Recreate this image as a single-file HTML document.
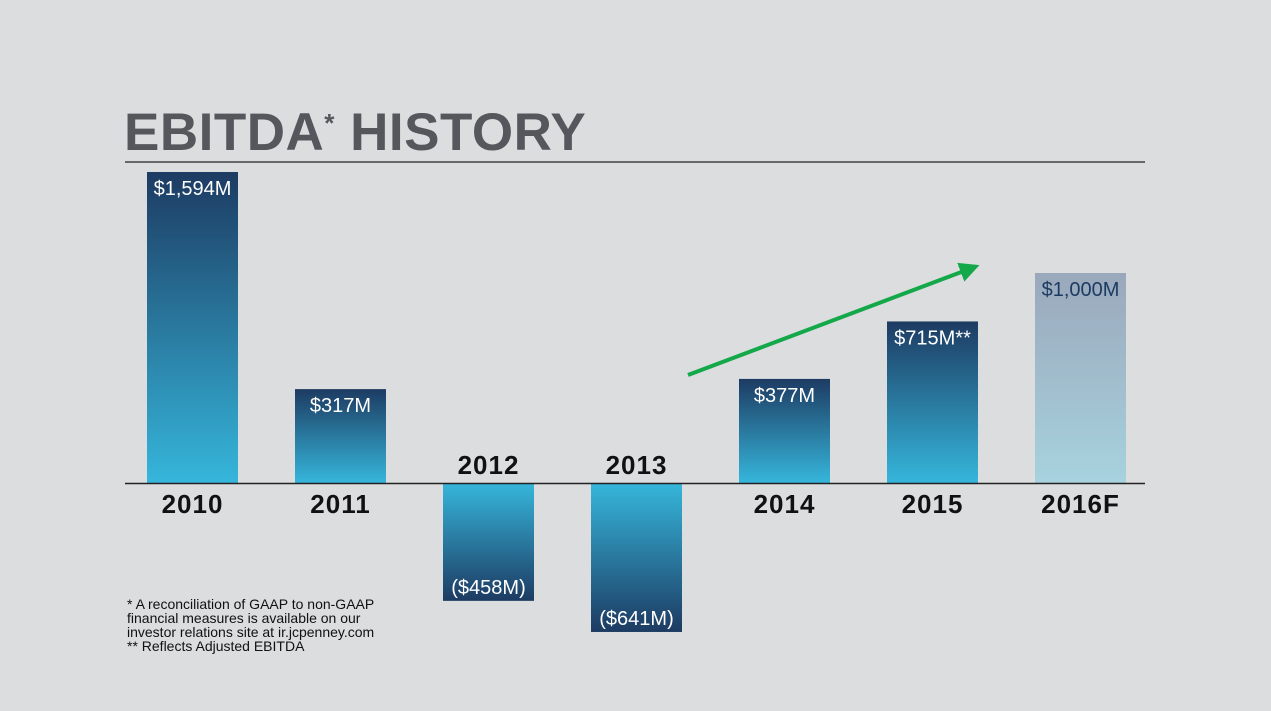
<!DOCTYPE html>
<html><head><meta charset="utf-8"><style>
body{margin:0;background:#dcdddf;width:1271px;height:706px;overflow:hidden;font-family:"Liberation Sans",sans-serif}
</style></head><body>
<svg width="1271" height="706" xmlns="http://www.w3.org/2000/svg">
<defs>
<linearGradient id="gpos" x1="0" y1="0" x2="0" y2="1"><stop offset="0" stop-color="#1d3b62"/><stop offset="1" stop-color="#36b6db"/></linearGradient>
<linearGradient id="gneg" x1="0" y1="0" x2="0" y2="1"><stop offset="0" stop-color="#36b6db"/><stop offset="1" stop-color="#1d3b62"/></linearGradient>
<linearGradient id="gfc" x1="0" y1="0" x2="0" y2="1"><stop offset="0" stop-color="#9aa8bb"/><stop offset="1" stop-color="#a7d2de"/></linearGradient>
<marker id="ah" markerWidth="5" markerHeight="5" refX="3" refY="2.5" orient="auto"><path d="M0,0 L5,2.5 L0,5 z" fill="#13a84a"/></marker>
</defs>
<text x="124" y="150" font-size="53" font-weight="bold" fill="#54575b" letter-spacing="0.5">EBITDA<tspan font-size="26" dy="-18">*</tspan><tspan dy="18"> HISTORY</tspan></text>
<line x1="125" y1="162" x2="1145" y2="162" stroke="#222" stroke-width="1.2"/>
<g id="bars"></g>
<line x1="125" y1="483.5" x2="1145" y2="483.5" stroke="#222" stroke-width="1.5"/>
<line x1="688" y1="375" x2="972" y2="268" stroke="#13a84a" stroke-width="4" marker-end="url(#ah)"/>
<text font-size="14" fill="#111">
<tspan x="127" y="609">*  A reconciliation of GAAP to non-GAAP</tspan>
<tspan x="127" y="623">financial measures is available on our</tspan>
<tspan x="127" y="637">investor relations site at ir.jcpenney.com</tspan>
<tspan x="127" y="651">** Reflects Adjusted EBITDA</tspan>
</text>
</svg>
<script>
const categories=["2010","2011","2012","2013","2014","2015","2016F"];
const values=[1594,317,-458,-641,377,715,1000];
const valueLabels=["$1,594M","$317M","($458M)","($641M)","$377M","$715M**","$1,000M"];
const forecast=[false,false,false,false,false,false,true];
const y0=483;
function yScale(v){const h=v===0?0:40+0.17*Math.abs(v);return v>=0?y0-h:y0+h;}
const xScale=i=>147+i*148;
const bw=91;
const g=document.getElementById('bars');
const NS="http://www.w3.org/2000/svg";
values.forEach((v,i)=>{
  const x=xScale(i), top=Math.min(yScale(v),y0), h=Math.abs(yScale(v)-y0);
  const r=document.createElementNS(NS,'rect');
  r.setAttribute('x',x);r.setAttribute('y',top);r.setAttribute('width',bw);r.setAttribute('height',h);
  r.setAttribute('fill',forecast[i]?'url(#gfc)':(v>=0?'url(#gpos)':'url(#gneg)'));
  
  
  g.appendChild(r);
  const t=document.createElementNS(NS,'text');
  t.setAttribute('x',x+bw/2);
  t.setAttribute('y',v>=0?top+23:top+h-7);
  t.setAttribute('text-anchor','middle');t.setAttribute('font-size','20');
  t.setAttribute('fill',forecast[i]?'#1d3b62':'#fff');
  t.textContent=valueLabels[i];
  
  
  g.appendChild(t);
  const c=document.createElementNS(NS,'text');
  c.setAttribute('x',x+bw/2);
  c.setAttribute('y',v>=0?513:474);
  c.setAttribute('text-anchor','middle');c.setAttribute('font-size','26');c.setAttribute('font-weight','bold');c.setAttribute('fill','#111');c.setAttribute('letter-spacing','1');
  c.textContent=categories[i];
  
  
  g.appendChild(c);
});
</script>
</body></html>
